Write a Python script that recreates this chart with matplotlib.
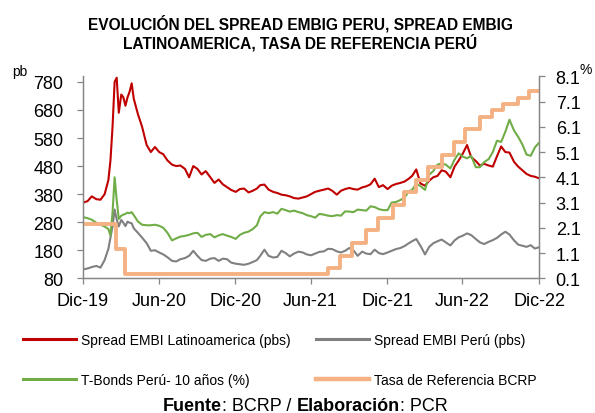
import matplotlib
matplotlib.use('Agg')
import matplotlib.pyplot as plt
import pandas as pd

plt.rcParams['font.family'] = ['Liberation Sans', 'DejaVu Sans']

# Fechas de lectura (comunes a las tres series diarias)
fechas = [
    '2020-01-01', '2020-01-11', '2020-01-21', '2020-02-01', '2020-02-11', '2020-02-21',
    '2020-03-01', '2020-03-06', '2020-03-11', '2020-03-16', '2020-03-21', '2020-03-26',
    '2020-04-01', '2020-04-06', '2020-04-11', '2020-04-16', '2020-04-21', '2020-04-26',
    '2020-05-01', '2020-05-11', '2020-05-21', '2020-06-01', '2020-06-11', '2020-06-21',
    '2020-07-01', '2020-07-11', '2020-07-21', '2020-08-01', '2020-08-11', '2020-08-21',
    '2020-09-01', '2020-09-11', '2020-09-21', '2020-10-01', '2020-10-11', '2020-10-21',
    '2020-11-01', '2020-11-11', '2020-11-21', '2020-12-01', '2020-12-11', '2020-12-21',
    '2021-01-01', '2021-01-11', '2021-01-21', '2021-02-01', '2021-02-11', '2021-02-21',
    '2021-03-01', '2021-03-11', '2021-03-21', '2021-04-01', '2021-04-11', '2021-04-21',
    '2021-05-01', '2021-05-11', '2021-05-21', '2021-06-01', '2021-06-11', '2021-06-21',
    '2021-07-01', '2021-07-11', '2021-07-21', '2021-08-01', '2021-08-11', '2021-08-21',
    '2021-09-01', '2021-09-11', '2021-09-21', '2021-10-01', '2021-10-11', '2021-10-21',
    '2021-11-01', '2021-11-11', '2021-11-21', '2021-12-01', '2021-12-11', '2021-12-21',
    '2022-01-01', '2022-01-11', '2022-01-21', '2022-02-01', '2022-02-11', '2022-02-21',
    '2022-03-01', '2022-03-11', '2022-03-21', '2022-04-01', '2022-04-11', '2022-04-21',
    '2022-05-01', '2022-05-11', '2022-05-21', '2022-06-01', '2022-06-11', '2022-06-21',
    '2022-07-01', '2022-07-11', '2022-07-21', '2022-08-01', '2022-08-11', '2022-08-21',
    '2022-09-01', '2022-09-11', '2022-09-21', '2022-10-01', '2022-10-11', '2022-10-21',
    '2022-11-01', '2022-11-11', '2022-11-21', '2022-12-01', '2022-12-11', '2022-12-21',
    '2022-12-30',
]

# Spread EMBI Latinoamerica (pbs)
embi_latam = [
    350, 355, 372, 362, 360, 380,
    430, 500, 620, 780, 795, 670,
    735, 725, 695, 725, 745, 775,
    720, 665, 620, 555, 530, 548,
    530, 522, 500, 485, 480, 482,
    470, 440, 480, 470, 450, 462,
    440, 420, 432, 415, 405, 395,
    388, 398, 400, 386, 392, 400,
    412, 414, 396, 388, 384, 378,
    376, 372, 366, 364, 368, 372,
    380, 388, 392, 396, 400, 392,
    378, 392, 398, 402, 398, 396,
    404, 408, 415, 435, 405, 412,
    398, 410, 416, 420, 425, 435,
    445, 468, 418, 410, 428, 440,
    445, 465, 460, 440, 478, 500,
    525, 555, 512, 498, 482, 488,
    482, 478, 515, 550, 530, 528,
    495, 478, 465, 452, 445, 442,
    437,
]

# Spread EMBI Peru (pbs)
embi_peru = [
    112, 115, 120, 124, 118, 145,
    185, 225, 265, 325, 290, 265,
    288, 278, 266, 282, 278, 276,
    258, 242, 225, 205, 178, 180,
    172, 165, 155, 142, 140, 148,
    152, 160, 178, 160, 145, 142,
    150, 152, 142, 150, 148, 136,
    132, 130, 128, 132, 138, 145,
    160, 182, 160, 154, 156, 178,
    170, 158, 168, 175, 172, 165,
    162, 168, 174, 176, 185, 184,
    176, 172, 178, 188, 180, 160,
    175, 168, 166, 182, 170, 166,
    172, 178, 184, 188, 195, 205,
    212, 220, 196, 165, 192, 205,
    212, 218, 208, 197, 215, 226,
    232, 240, 234, 220, 208, 202,
    210, 216, 224, 236, 246, 236,
    215, 200, 196, 192, 198, 186,
    190,
]

# T-Bonds Peru 10 anios (%)
tbonds_peru = [
    2.52, 2.48, 2.42, 2.30, 2.22, 2.15,
    2.05, 1.80, 2.70, 4.10, 3.20, 2.45,
    2.58, 2.62, 2.65, 2.70, 2.68, 2.72,
    2.60, 2.35, 2.22, 2.20, 2.20, 2.22,
    2.18, 2.10, 1.90, 1.60, 1.68, 1.75,
    1.78, 1.82, 1.88, 1.90, 1.74, 1.82,
    1.85, 1.72, 1.80, 1.85, 1.79, 1.74,
    1.66, 1.82, 1.90, 1.95, 2.05, 2.20,
    2.55, 2.72, 2.68, 2.72, 2.66, 2.85,
    2.80, 2.74, 2.78, 2.72, 2.68, 2.60,
    2.56, 2.50, 2.65, 2.62, 2.58, 2.56,
    2.60, 2.58, 2.75, 2.74, 2.72, 2.82,
    2.80, 2.78, 2.95, 2.92, 2.84, 2.80,
    2.80, 3.10, 3.12, 3.20, 3.30, 3.55,
    3.60, 3.85, 3.75, 3.60, 4.20, 4.35,
    4.60, 4.65, 4.60, 4.45, 4.80, 5.05,
    4.92, 4.85, 4.95, 4.50, 4.50, 4.70,
    4.82, 5.10, 5.55, 5.50, 5.90, 6.38,
    5.95, 5.70, 5.40, 5.00, 4.95, 5.28,
    5.45,
]

# Tasa de referencia BCRP (%), fechas de cambio
fechas_tasa = [
    '2019-12-31', '2020-03-19', '2020-04-09', '2021-08-12', '2021-09-09',
    '2021-10-07', '2021-11-11', '2021-12-09', '2022-01-13', '2022-02-10',
    '2022-03-10', '2022-04-07', '2022-05-12', '2022-06-09', '2022-07-07',
    '2022-08-11', '2022-09-08', '2022-10-06', '2022-11-10', '2022-12-07',
    '2022-12-30',
]
tasa_bcrp = [
    2.25, 1.25, 0.25, 0.50, 1.00,
    1.50, 2.00, 2.50, 3.00, 3.50,
    4.00, 4.50, 5.00, 5.50, 6.00,
    6.50, 6.75, 7.00, 7.25, 7.50,
    7.50,
]

ticks_x = ['2019-12-31', '2020-06-30', '2020-12-31', '2021-06-30',
           '2021-12-31', '2022-06-30', '2022-12-31']
etiquetas_x = ['Dic-19', 'Jun-20', 'Dic-20', 'Jun-21', 'Dic-21', 'Jun-22', 'Dic-22']
ticks_izq = [80, 180, 280, 380, 480, 580, 680, 780]
ticks_der = [0.1, 1.1, 2.1, 3.1, 4.1, 5.1, 6.1, 7.1, 8.1]

fechas = pd.to_datetime(fechas)
fechas_tasa = pd.to_datetime(fechas_tasa)

ROJO = '#C00000'
GRIS = '#808080'
VERDE = '#70AD47'
NARANJA = '#F4B183'
EJE = '#868686'

fig = plt.figure(figsize=(5.95, 4.14), dpi=100)
ax = fig.add_axes([0.1395, 0.3254, 0.7664, 0.4879])
ax2 = ax.twinx()

l1, = ax.plot(fechas, embi_latam, color=ROJO, linewidth=1.5, label='Spread EMBI Latinoamerica (pbs)')
l2, = ax.plot(fechas, embi_peru, color=GRIS, linewidth=1.5, label='Spread EMBI Perú (pbs)')
l3, = ax2.plot(fechas, tbonds_peru, color=VERDE, linewidth=1.5, label='T-Bonds Perú- 10 años (%)')
l4, = ax2.plot(fechas_tasa, tasa_bcrp, color=NARANJA, linewidth=2.8, drawstyle='steps-post',
               label='Tasa de Referencia BCRP')

ax.set_xlim(pd.Timestamp('2019-12-31'), pd.Timestamp('2022-12-31'))
ax.set_ylim(80, 800)
ax2.set_ylim(0.1, 8.1)
ax.set_xticks(pd.to_datetime(ticks_x))
ax.set_xticklabels(etiquetas_x)
ax.set_yticks(ticks_izq)
ax2.set_yticks(ticks_der)
ax2.set_yticklabels([f'{v:.1f}' for v in ticks_der])

for a in (ax, ax2):
    a.spines['top'].set_visible(False)
    for s in ('left', 'right', 'bottom'):
        a.spines[s].set_color(EJE)
        a.spines[s].set_linewidth(0.9)
ax.tick_params(axis='both', direction='out', length=4, width=0.9, color=EJE, labelsize=13)
ax.tick_params(axis='y', pad=10)
ax.tick_params(axis='x', pad=6)
ax2.tick_params(axis='y', direction='out', length=4, width=0.9, color=EJE, labelsize=13, pad=8)

fig.text(12 / 595, 1 - 72 / 414, 'pb', fontsize=10, ha='left', va='center')
fig.text(579 / 595, 1 - 70 / 414, '%', fontsize=10, ha='left', va='center')

fig.text(0.505, 1 - 15 / 414, 'EVOLUCIÓN DEL SPREAD EMBIG PERU, SPREAD EMBIG\nLATINOAMERICA, TASA DE REFERENCIA PERÚ',
         fontsize=11.2, fontweight='bold', ha='center', va='top', linespacing=1.07)

leg = fig.legend([l1, l3, l2, l4], [l1.get_label(), l3.get_label(), l2.get_label(), l4.get_label()],
                 ncol=2, loc='center left', bbox_to_anchor=(23 / 595, 1 - 361 / 414),
                 frameon=False, fontsize=10, handlelength=3.8, handletextpad=0.4,
                 columnspacing=1.8, labelspacing=1.9, borderpad=0, borderaxespad=0)
for h in leg.legend_handles:
    h.set_linewidth(2.2)
leg.legend_handles[3].set_linewidth(3.2)

t1 = fig.text(163 / 595, 1 - 407 / 414, 'Fuente', fontsize=13, fontweight='bold', ha='left', va='center')
t2 = ax.annotate(': BCRP / ', xy=(1, 0), xycoords=t1, fontsize=13, ha='left', va='bottom')
t3 = ax.annotate('Elaboración', xy=(1, 0), xycoords=t2, fontsize=13, fontweight='bold', ha='left', va='bottom')
t4 = ax.annotate(': PCR', xy=(1, 0), xycoords=t3, fontsize=13, ha='left', va='bottom')

fig.savefig('out.png', dpi=100)
